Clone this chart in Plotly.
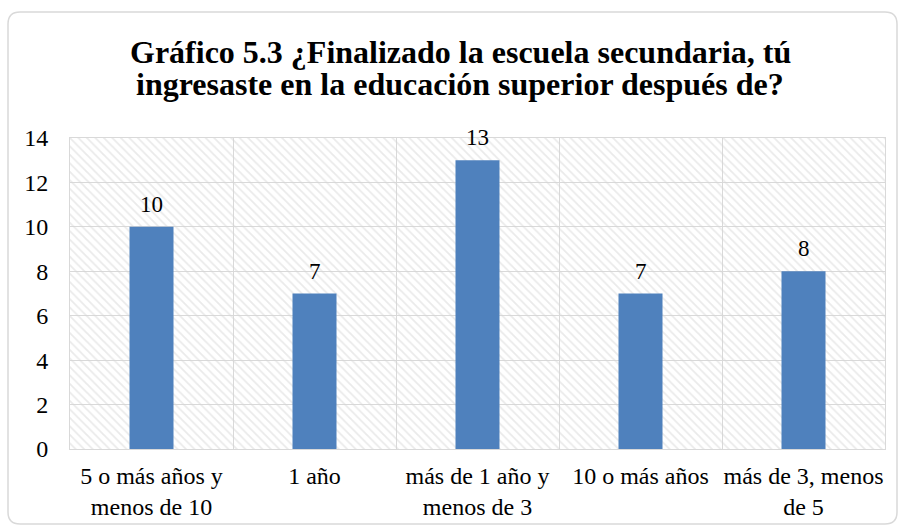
import plotly.graph_objects as go

categorias = ["5 o más años y<br>menos de 10", "1 año", "más de 1 año y<br>menos de 3",
              "10 o más años", "más de 3, menos<br>de 5"]
valores = [10, 7, 13, 7, 8]
y_max = 14
titulo = ["Gráfico 5.3 ¿Finalizado la escuela secundaria, tú",
          "ingresaste en la educación superior después de?"]

SERIF = "Liberation Serif"

W, H = 899, 526
ml, mr, mt, mb = 70, 14, 138, 77
pw, ph = W - ml - mr, H - mt - mb

# px -> paper coords
def px(x):
    return (x - ml) / pw

def py(y):
    return (H - mb - y) / ph

# rounded border path
x0, y0, x1, y1, r = 8, 12, 897, 524, 12
path = (f"M {px(x0 + r)},{py(y0)} L {px(x1 - r)},{py(y0)} "
        f"Q {px(x1)},{py(y0)} {px(x1)},{py(y0 + r)} "
        f"L {px(x1)},{py(y1 - r)} Q {px(x1)},{py(y1)} {px(x1 - r)},{py(y1)} "
        f"L {px(x0 + r)},{py(y1)} Q {px(x0)},{py(y1)} {px(x0)},{py(y1 - r)} "
        f"L {px(x0)},{py(y0 + r)} Q {px(x0)},{py(y0)} {px(x0 + r)},{py(y0)} Z")

fig = go.Figure()

# hatched background of the plot area
fig.add_trace(go.Bar(
    x=categorias, y=[y_max] * len(categorias), width=1,
    marker=dict(color="rgba(0,0,0,0)", line=dict(width=0),
                pattern=dict(shape="\\", fgcolor="#D6D6D6", bgcolor="rgba(0,0,0,0)",
                             size=6, solidity=0.3)),
    hoverinfo="skip", showlegend=False))

fig.add_trace(go.Bar(
    x=categorias, y=valores, width=0.27,
    marker=dict(color="#4F81BD", line=dict(width=0)),
    showlegend=False))

# data labels
anns = []
for c, v in zip(categorias, valores):
    anns.append(dict(x=c, y=v, text=str(v), showarrow=False, yanchor="bottom",
                     yshift=8, font=dict(family=SERIF, size=23, color="#000000")))

# title, two lines
for linea, yc in zip(titulo, [52, 84]):
    anns.append(dict(xref="paper", yref="paper", x=px(460), y=py(yc), text=linea,
                     showarrow=False, xanchor="center", yanchor="middle",
                     font=dict(family=SERIF, size=32, color="#000000", weight="bold")))

fig.update_layout(
    width=W, height=H,
    margin=dict(l=ml, r=mr, t=mt, b=mb, autoexpand=False),
    paper_bgcolor="white", plot_bgcolor="white",
    barmode="overlay",
    font=dict(family=SERIF, size=24, color="#000000"),
    annotations=anns,
    shapes=[dict(type="path", xref="paper", yref="paper", path=path,
                 line=dict(color="#D9D9D9", width=1.5), layer="below")],
)

fig.update_xaxes(tickson="boundaries", showgrid=True, gridcolor="#D9D9D9", gridwidth=1,
                 ticks="", showline=True, linecolor="#D9D9D9", mirror=True,
                 tickangle=0, automargin=False,
                 ticklabelstandoff=5, tickfont=dict(family=SERIF, size=24))
fig.update_yaxes(range=[0, y_max], dtick=2, showgrid=True, gridcolor="#D9D9D9", gridwidth=1,
                 showline=True, linecolor="#D9D9D9", mirror=True, zeroline=False,
                 automargin=False,
                 ticks="outside", ticklen=16, tickcolor="rgba(0,0,0,0)",
                 tickfont=dict(family=SERIF, size=24))

fig.write_html("out.html", config={"displayModeBar": False},
               post_script="document.body.style.margin='0';")
